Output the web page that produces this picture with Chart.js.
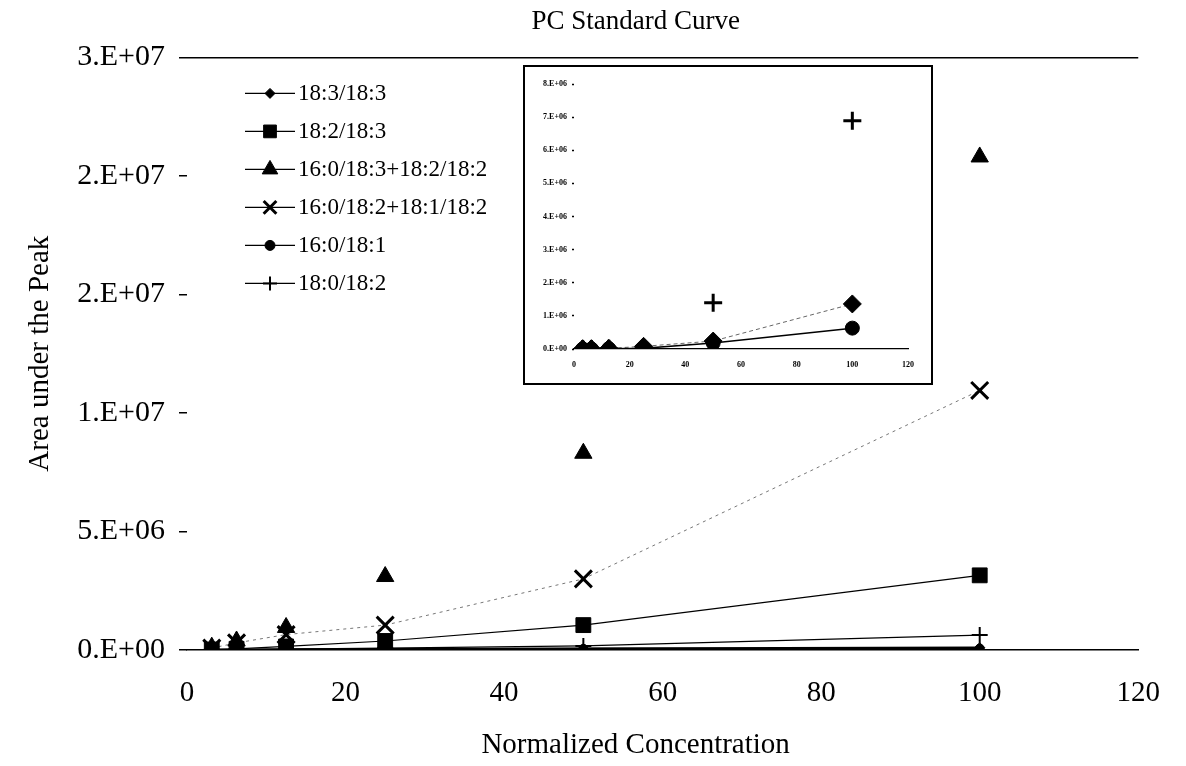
<!DOCTYPE html>
<html><head><meta charset="utf-8">
<script src="https://cdn.jsdelivr.net/npm/chart.js@4.4.1/dist/chart.umd.min.js"></script>
<style>
html,body{margin:0;padding:0;background:#fff;}
#wrap{position:relative;width:1186px;height:766px;overflow:hidden;}
#main{position:absolute;left:0;top:0;}
#insetBox{position:absolute;left:523px;top:65px;width:406px;height:316px;border:2px solid #000;background:#fff;}
#inset{position:absolute;left:0;top:0;}
</style></head><body>
<div id="wrap">
<canvas id="main" width="1186" height="766"></canvas>
<div id="insetBox"><canvas id="inset" width="406" height="316"></canvas></div>
</div>
<script>
// ---- data (main chart) ----
const concentrations = [3.125, 6.25, 12.5, 25, 50, 100];
const seriesNames = ['18:3/18:3', '18:2/18:3', '16:0/18:3+18:2/18:2', '16:0/18:2+18:1/18:2', '16:0/18:1', '18:0/18:2'];
const pc18_3_18_3 = [5000, 10000, 20000, 40000, 60000, 100000];
const pc18_2_18_3 = [20000, 50000, 150000, 380000, 1050000, 3150000];
const pc16_0_18_3_plus = [120000, 380000, 950000, 3100000, 8300000, 20800000];
const pc16_0_18_2_plus = [80000, 300000, 650000, 1050000, 3000000, 10950000];
const pc16_0_18_1 = [5000, 10000, 20000, 30000, 50000, 60000];
const pc18_0_18_2 = [10000, 20000, 40000, 80000, 170000, 630000];
const yTickLabels = ['0.E+00', '5.E+06', '1.E+07', '2.E+07', '2.E+07', '3.E+07'];
const xTickLabels = ['0', '20', '40', '60', '80', '100', '120'];

// ---- data (inset chart) ----
const insetConcentrations = [3.125, 6.25, 12.5, 25, 50, 100];
const insetDiamond = [10000, 10000, 20000, 80000, 240000, 1360000];
const insetCircle = [0, 0, 10000, 20000, 180000, 630000];
const insetPlus = [0, 0, 10000, 30000, 1400000, 6890000];
const insetYTickLabels = ['0.E+00', '1.E+06', '2.E+06', '3.E+06', '4.E+06', '5.E+06', '6.E+06', '7.E+06', '8.E+06'];
const insetXTickLabels = ['0', '20', '40', '60', '80', '100', '120'];

const pts = (xs, ys) => xs.map((x, i) => ({x: x, y: ys[i]}));
const SERIF = "'Liberation Serif', 'Times New Roman', serif";

const legendPlugin = {
  id: 'excelLegend',
  afterLayout(chart, args, o) {
    if (!o) return;
    if (o.titleShift && chart.titleBlock) {
      chart.titleBlock.left += o.titleShift;
      chart.titleBlock.right += o.titleShift;
    }
    const xs = chart.scales.x;
    if (o.xTitleShift && xs && !xs._titleShifted) {
      const orig = xs.drawTitle;
      xs.drawTitle = function () {
        const l = this.left, r = this.right;
        this.left += o.xTitleShift; this.right += o.xTitleShift;
        orig.apply(this, arguments);
        this.left = l; this.right = r;
      };
      xs._titleShifted = true;
    }
  },
  afterDraw(chart, args, o) {
    if (!o || !o.show) return;
    const ctx = chart.ctx, ca = chart.chartArea;
    ctx.save();
    ctx.font = o.font;
    ctx.textBaseline = 'middle';
    ctx.textAlign = 'left';
    chart.data.datasets.forEach((ds, i) => {
      const y = ca.top + o.top + i * o.spacing;
      const x0 = ca.left + o.lineStart, x1 = ca.left + o.lineEnd;
      ctx.setLineDash([]);
      ctx.strokeStyle = '#000';
      ctx.lineWidth = 1.3;
      ctx.beginPath(); ctx.moveTo(x0, y); ctx.lineTo(x1, y); ctx.stroke();
      ctx.fillStyle = '#000';
      ctx.lineWidth = ds.pointBorderWidth || 1;
      Chart.helpers.drawPoint(ctx, {pointStyle: ds.pointStyle, radius: ds.legendRadius, borderWidth: ds.pointBorderWidth || 1, rotation: 0}, (x0 + x1) / 2, y);
      ctx.fillStyle = '#000';
      ctx.fillText(ds.label, ca.left + o.textX, y + 1);
    });
    ctx.restore();
  }
};

const mk = (label, data, style, r, lr, bw, line) => Object.assign({
  label: label, data: pts(concentrations, data), pointStyle: style, pointRadius: r, pointHoverRadius: r,
  legendRadius: lr, pointBorderWidth: bw, backgroundColor: '#000', pointBackgroundColor: '#000',
  pointBorderColor: '#000', borderColor: '#000', borderWidth: 1.2, showLine: true, tension: 0
}, line);

new Chart(document.getElementById('main'), {
  type: 'scatter',
  data: {
    datasets: [
      mk(seriesNames[0], pc18_3_18_3, 'rectRot', 5, 5, 1, {borderWidth: 2.2}),
      mk(seriesNames[1], pc18_2_18_3, 'rect', 10.5, 9, 1, {borderWidth: 1.2}),
      mk(seriesNames[2], pc16_0_18_3_plus, 'triangle', 10, 9, 1, {showLine: false}),
      mk(seriesNames[3], pc16_0_18_2_plus, 'crossRot', 12, 9, 3, {borderWidth: 1, borderColor: '#777', borderDash: [3, 4]}),
      mk(seriesNames[4], pc16_0_18_1, 'circle', 4.5, 5, 1, {borderWidth: 2.2}),
      mk(seriesNames[5], pc18_0_18_2, 'cross', 8, 7, 2, {borderWidth: 1.2})
    ]
  },
  options: {
    responsive: false,
    animation: false,
    devicePixelRatio: 1,
    layout: {padding: {left: 0, right: 38, top: 0, bottom: 0}},
    plugins: {
      legend: {display: false},
      tooltip: {enabled: false},
      title: {display: true, text: 'PC Standard Curve', color: '#000', fullSize: false,
              font: {family: SERIF, size: 27, weight: 'normal'}, padding: {top: 6, bottom: 19}},
      excelLegend: {show: true, font: "23px " + SERIF, top: 36, spacing: 38, lineStart: 58, lineEnd: 108, textX: 111,
                    titleShift: -27, xTitleShift: -27}
    },
    scales: {
      x: {
        type: 'linear', min: 0, max: 120,
        afterFit: (s) => { s.height = 116; },
        ticks: {stepSize: 20, color: '#000', padding: 26, font: {family: SERIF, size: 29},
                callback: (v) => xTickLabels[Math.round(v / 20)]},
        grid: {display: false, drawTicks: false},
        border: {display: true, color: '#000', width: 1.5},
        title: {display: true, text: 'Normalized Concentration', color: '#000',
                font: {family: SERIF, size: 29}, padding: {top: 18, bottom: 3}}
      },
      y: {
        type: 'linear', min: 0, max: 25000000,
        afterFit: (s) => { s.width = 187; },
        ticks: {stepSize: 5000000, color: '#000', padding: 14, font: {family: SERIF, size: 30},
                callback: (v) => yTickLabels[Math.round(v / 5000000)]},
        grid: {display: true, drawOnChartArea: true, drawTicks: true, tickLength: 8, tickColor: '#000', tickWidth: 1.5,
               lineWidth: 1.5, color: (c) => (c.tick && c.tick.value === 25000000) ? '#000' : 'rgba(0,0,0,0)'},
        border: {display: false},
        title: {display: true, text: 'Area under the Peak', color: '#000',
                font: {family: SERIF, size: 29}, padding: {top: 23, bottom: 19}}
      }
    }
  },
  plugins: [legendPlugin]
});

// ---- inset chart ----
const mi = (label, data, style, r, bw, order, line) => Object.assign({
  label: label, data: pts(insetConcentrations, data), pointStyle: style, pointRadius: r, pointHoverRadius: r,
  pointBorderWidth: bw, backgroundColor: '#000', pointBackgroundColor: '#000', pointBorderColor: '#000',
  borderColor: '#000', borderWidth: 1.5, showLine: true, tension: 0, order: order
}, line);

new Chart(document.getElementById('inset'), {
  type: 'scatter',
  data: {
    datasets: [
      mi(seriesNames[0], insetDiamond, 'rectRot', 9, 1, 2, {borderWidth: 1, borderColor: '#666', borderDash: [4, 3]}),
      mi(seriesNames[4], insetCircle, 'circle', 7, 1, 1, {borderWidth: 1.5}),
      mi(seriesNames[5], insetPlus, 'cross', 9, 3, 3, {showLine: false})
    ]
  },
  options: {
    responsive: false,
    animation: false,
    devicePixelRatio: 1,
    layout: {padding: {left: 0, right: 23, top: 17, bottom: 0}},
    plugins: {legend: {display: false}, tooltip: {enabled: false}, title: {display: false}},
    scales: {
      x: {
        type: 'linear', min: 0, max: 120,
        afterFit: (s) => { s.height = 34; },
        ticks: {stepSize: 20, color: '#000', padding: 11, font: {family: SERIF, size: 8, weight: 'bold'},
                callback: (v) => insetXTickLabels[Math.round(v / 20)]},
        grid: {display: false, drawTicks: false},
        border: {display: true, color: '#000', width: 1.2}
      },
      y: {
        type: 'linear', min: 0, max: 8000000,
        afterFit: (s) => { s.width = 49; },
        ticks: {stepSize: 1000000, color: '#000', padding: 5, font: {family: SERIF, size: 8, weight: 'bold'},
                callback: (v) => insetYTickLabels[Math.round(v / 1000000)]},
        grid: {display: true, drawOnChartArea: false, drawTicks: true, tickLength: 2, tickColor: '#000', tickWidth: 1.5},
        border: {display: false}
      }
    }
  }
});
</script>
</body></html>
